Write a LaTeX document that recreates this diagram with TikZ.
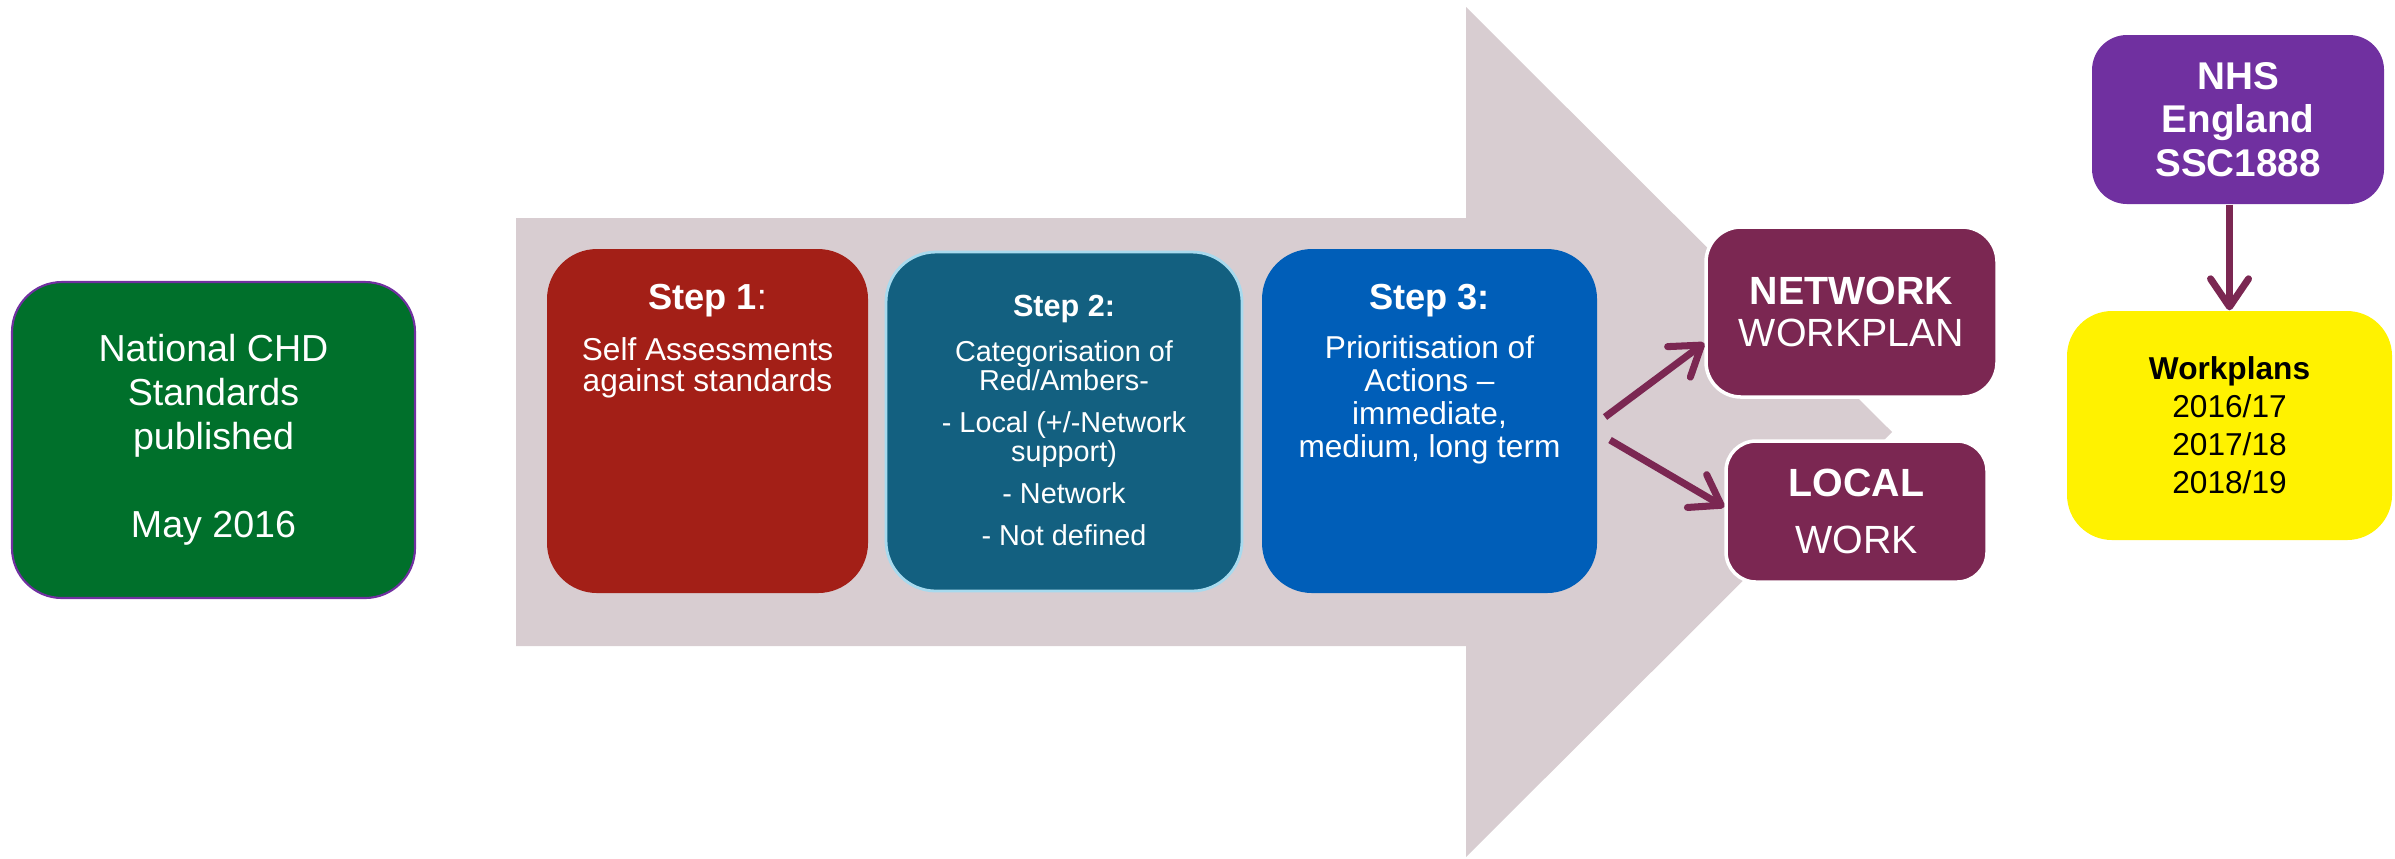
\documentclass[tikz,border=0pt]{standalone}
\usepackage{fontspec}
\setmainfont{Liberation Sans}
\usetikzlibrary{arrows.meta}

\definecolor{chdgreen}{HTML}{00702B}
\definecolor{nhspurple}{HTML}{7030A0}
\definecolor{shaftgrey}{HTML}{D8CDD1}
\definecolor{stepred}{HTML}{A31F17}
\definecolor{stepteal}{HTML}{136080}
\definecolor{tealedge}{HTML}{A8DAEE}
\definecolor{stepblue}{HTML}{005EB8}
\definecolor{plum}{HTML}{7B2752}

\begin{document}
\begin{tikzpicture}
  [x=0.1mm,y=-0.1mm,
   box/.style={rounded corners=5mm,inner sep=0pt,align=center,text=white},
   steptitle/.style={anchor=base,inner sep=0pt,text=white,font=\fontsize{10.3}{12}\selectfont},
   stepbody/.style={anchor=north,align=center,inner sep=0pt,text=white,font=\fontsize{9}{8.8}\selectfont},
   link/.style={draw=plum,line width=2pt,-{Straight Barb[length=2.8mm,width=3.8mm,round]}}]
  \useasboundingbox (0,0) rectangle (2395,858);
  % big grey arrow behind the steps
  \fill[shaftgrey] (516,218) -- (1466,218) -- (1466,7) -- (1892,432) -- (1466,857) -- (1466,646) -- (516,646) -- cycle;
  \node[box,fill=chdgreen,draw=nhspurple,line width=0.6pt,minimum width=40.3mm,minimum height=31.6mm,
        font=\fontsize{10.7}{12.5}\selectfont] (std) at (213.5,440) {National CHD\\Standards\\published\\[12.5pt]May 2016};
  % the three steps
  \node[box,fill=stepred,minimum width=32.1mm,minimum height=34.4mm] (s1) at (707.5,421) {};
  \node[steptitle] (s1t) at (707.5,309) {\textbf{Step 1}:};
  \node[stepbody] (s1b) at (707.5,337) {Self Assessments\\against standards};
  \node[box,fill=stepteal,draw=tealedge,line width=0.8pt,minimum width=35.6mm,minimum height=33.9mm] (s2) at (1064,421.5) {};
  \node[steptitle,font=\fontsize{8.7}{10}\selectfont] (s2t) at (1064,316) {\textbf{Step 2:}};
  \node[stepbody,font=\fontsize{8.2}{8.25}\selectfont] (s2b) at (1064,340)
    {Categorisation of\\Red/Ambers-\\[3.7pt]- Local (+/-Network\\support)\\[3.7pt]- Network\\[3.7pt]- Not defined};
  \node[box,fill=stepblue,minimum width=33.5mm,minimum height=34.4mm] (s3) at (1429.5,421) {};
  \node[steptitle] (s3t) at (1429.5,309) {\textbf{Step 3:}};
  \node[stepbody,font=\fontsize{9}{9.4}\selectfont] (s3b) at (1429.5,335) {Prioritisation of\\Actions --\\immediate,\\medium, long term};
  % outcomes
  \node[box,rounded corners=3.5mm,fill=plum,draw=white,line width=1pt,minimum width=29.1mm,minimum height=17mm,
        font=\fontsize{11.2}{12}\selectfont] (net) at (1851.5,312) {\textbf{NETWORK}\\WORKPLAN};
  \node[box,rounded corners=3mm,fill=plum,draw=white,line width=1pt,minimum width=26.1mm,minimum height=14.1mm,
        font=\fontsize{11.2}{12}\selectfont] (loc) at (1856.5,511.5) {\textbf{LOCAL}\\[4.3pt]WORK};
  \node[box,rounded corners=3.5mm,fill=nhspurple,minimum width=29.2mm,minimum height=16.9mm,
        font=\fontsize{11}{12.4}\selectfont\bfseries] (nhs) at (2238,119.5) {NHS\\England\\SSC1888};
  \node[box,rounded corners=4.5mm,fill=yellow,text=black,minimum width=32.5mm,minimum height=22.9mm,
        font=\fontsize{9}{10.8}\selectfont] (wp) at (2229.5,425.5) {\textbf{Workplans}\\2016/17\\2017/18\\2018/19};
  \coordinate (s3up) at (1605,417);
  \coordinate (s3down) at (1610,440);
  \draw[link] (s3up) -- (net.west |- 0,343);
  \draw[link] (s3down) -- (loc.west |- 0,507);
  \draw[link] (nhs.south -| wp.north) -- (wp.north);
\end{tikzpicture}
\end{document}
